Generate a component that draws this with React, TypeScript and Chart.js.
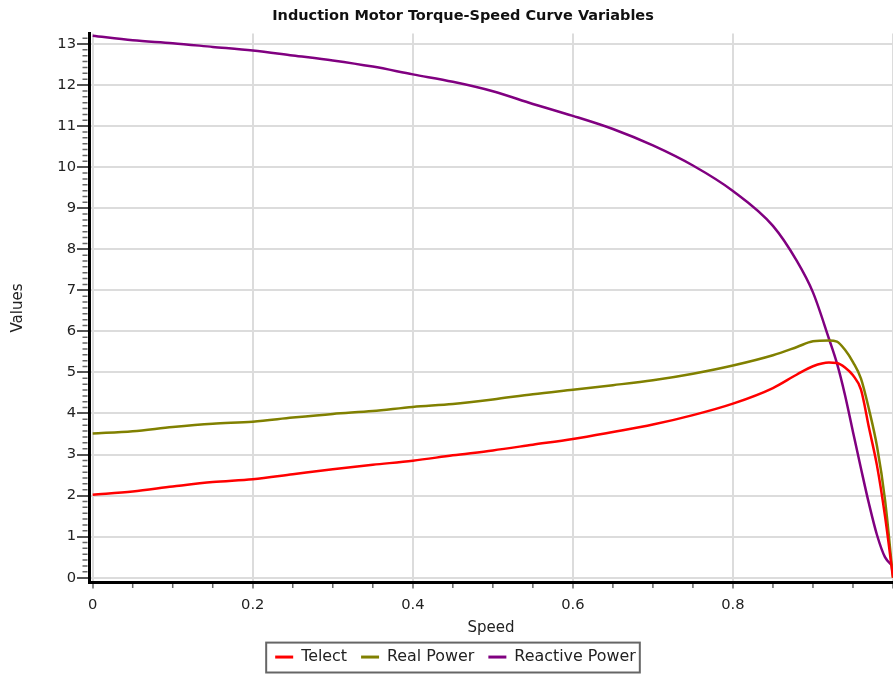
import { useEffect, useRef } from 'react';
import { Chart, registerables } from 'chart.js';

Chart.register(...registerables);

const speed = [0, 0.05, 0.1, 0.15, 0.2, 0.25, 0.3, 0.35, 0.4, 0.45, 0.5, 0.55, 0.6, 0.65, 0.7, 0.75, 0.8, 0.85, 0.88, 0.9, 0.92, 0.93, 0.94, 0.95, 0.96, 0.97, 0.98, 0.99, 1.0];
const telect = [2.02, 2.1, 2.22, 2.33, 2.4, 2.52, 2.64, 2.75, 2.85, 2.98, 3.1, 3.24, 3.38, 3.55, 3.73, 3.96, 4.24, 4.62, 4.95, 5.15, 5.24, 5.23, 5.12, 4.93, 4.58, 3.65, 2.73, 1.5, 0];
const realPower = [3.51, 3.57, 3.67, 3.75, 3.8, 3.9, 3.99, 4.06, 4.16, 4.23, 4.34, 4.47, 4.58, 4.69, 4.81, 4.97, 5.17, 5.42, 5.62, 5.76, 5.78, 5.75, 5.55, 5.25, 4.85, 4.1, 3.2, 1.9, 0];
const reactivePower = [13.2, 13.09, 13.02, 12.93, 12.84, 12.72, 12.6, 12.45, 12.26, 12.08, 11.85, 11.54, 11.25, 10.93, 10.53, 10.04, 9.42, 8.57, 7.71, 6.95, 5.82, 5.22, 4.45, 3.55, 2.66, 1.8, 1.04, 0.5, 0.28];

const xTicks = [0, 0.2, 0.4, 0.6, 0.8, 1];
const xMinorTicks = [0.05, 0.1, 0.15, 0.25, 0.3, 0.35, 0.45, 0.5, 0.55, 0.65, 0.7, 0.75, 0.85, 0.9, 0.95];
const yTicks = [0, 1, 2, 3, 4, 5, 6, 7, 8, 9, 10, 11, 12, 13];
const yMinorDivisions = 7;

const FONT = "'DejaVu Sans', sans-serif";

export default function App() {
  const ref = useRef<HTMLCanvasElement>(null);

  useEffect(() => {
    if (!ref.current) return;
    const pts = (ys: number[]) => speed.map((x, i) => ({ x, y: ys[i] }));

    const extras = {
      id: 'extras',
      afterLayout(chart: any) {
        if (chart.legend) {
          chart.legend.left += 9;
          chart.legend.right += 9;
        }
        if (chart.titleBlock) {
          chart.titleBlock.left += 16.5;
          chart.titleBlock.right += 16.5;
        }
      },
      afterDraw(chart: any) {
        const { ctx, chartArea, scales } = chart;
        const xs = scales.x;
        const ys = scales.y;
        ctx.save();
        ctx.strokeStyle = '#666';
        ctx.lineWidth = 1.5;
        ctx.beginPath();
        for (let v = -1; v <= 13; v++) {
          for (let k = 1; k < yMinorDivisions; k++) {
            const p = ys.getPixelForValue(v + k / yMinorDivisions);
            if (p < chartArea.top || p > chartArea.bottom - 2) continue;
            ctx.moveTo(chartArea.left - 6.5, p);
            ctx.lineTo(chartArea.left - 1.5, p);
          }
        }
        xMinorTicks.forEach((v) => {
          const p = xs.getPixelForValue(v);
          ctx.moveTo(p, chartArea.bottom + 1.5);
          ctx.lineTo(p, chartArea.bottom + 5.5);
        });
        ctx.stroke();

        const boxes = chart.legend?.legendHitBoxes || [];
        if (boxes.length) {
          let l = Infinity, r = -Infinity, t = Infinity, b = -Infinity;
          boxes.forEach((h: any) => {
            l = Math.min(l, h.left);
            r = Math.max(r, h.left + h.width);
            t = Math.min(t, h.top);
            b = Math.max(b, h.top + h.height);
          });
          ctx.strokeStyle = '#666';
          ctx.lineWidth = 2;
          ctx.strokeRect(l - 9, t - 6.5, r - l + 13, b - t + 14);
        }
        ctx.restore();
      },
    };

    const chart = new Chart(ref.current, {
      type: 'line',
      data: {
        datasets: [
          { label: 'Telect', data: pts(telect), borderColor: '#ff0000', backgroundColor: '#ff0000' },
          { label: 'Real Power', data: pts(realPower), borderColor: '#808000', backgroundColor: '#808000' },
          { label: 'Reactive Power', data: pts(reactivePower), borderColor: '#800080', backgroundColor: '#800080' },
        ],
      },
      options: {
        animation: false,
        responsive: false,
        devicePixelRatio: 1,
        layout: { padding: { right: 33 } },
        elements: {
          line: { borderWidth: 2.5, cubicInterpolationMode: 'monotone', fill: false },
          point: { radius: 0, hoverRadius: 0 },
        },
        plugins: {
          tooltip: { enabled: false },
          title: {
            display: true,
            text: 'Induction Motor Torque-Speed Curve Variables',
            font: { family: FONT, size: 14.5, weight: 'bold' },
            color: '#111',
            padding: { top: 8, bottom: 8.1 },
          },
          legend: {
            position: 'bottom',
            labels: {
              font: { family: FONT, size: 15.9 },
              color: '#222',
              boxWidth: 18,
              boxHeight: 3,
              padding: 14,
              generateLabels: (c: any) =>
                (Chart.defaults.plugins.legend.labels as any).generateLabels(c).map((l: any) => ({ ...l, lineWidth: 0 })),
            },
          },
        },
        scales: {
          x: {
            type: 'linear',
            min: -0.0046,
            max: 1,
            afterBuildTicks: (s: any) => {
              s.ticks = xTicks.map((value) => ({ value }));
            },
            afterFit: (s: any) => {
              s.height = 52.6;
            },
            ticks: {
              font: { family: FONT, size: 14.7 },
              color: '#222',
              padding: 7.7,
              maxRotation: 0,
              autoSkip: false,
              callback: (v: any) => (Number(v) >= 1 ? '' : String(Number(Number(v).toFixed(1)))),
            },
            grid: { color: '#dcdcdc', lineWidth: 2, tickColor: '#666', tickWidth: 1.5, tickLength: 6 },
            border: { display: true, color: '#000', width: 3 },
            title: {
              display: true,
              text: 'Speed',
              font: { family: FONT, size: 15 },
              color: '#222',
              padding: { top: 3, bottom: -1.8 },
            },
          },
          y: {
            type: 'linear',
            min: -0.117,
            max: 13.256,
            afterBuildTicks: (s: any) => {
              s.ticks = yTicks.map((value) => ({ value }));
            },
            afterFit: (s: any) => {
              s.width = 89;
            },
            ticks: {
              font: { family: FONT, size: 14.7 },
              color: '#222',
              padding: 1,
              autoSkip: false,
              callback: (v: any) => String(v),
            },
            grid: { color: '#dcdcdc', lineWidth: 2, tickColor: '#555', tickWidth: 2, tickLength: 12 },
            border: { display: true, color: '#000', width: 3 },
            title: {
              display: true,
              text: 'Values',
              font: { family: FONT, size: 15 },
              color: '#222',
              padding: { top: 9, bottom: 0 },
            },
          },
        },
      },
      plugins: [extras],
    } as any);

    return () => chart.destroy();
  }, []);

  return (
    <div style={{ position: 'absolute', left: 0, top: 0, width: 893, height: 675, overflow: 'hidden', background: '#fff' }}>
      <canvas ref={ref} width={926} height={675} style={{ display: 'block', width: 926, height: 675 }} />
    </div>
  );
}
